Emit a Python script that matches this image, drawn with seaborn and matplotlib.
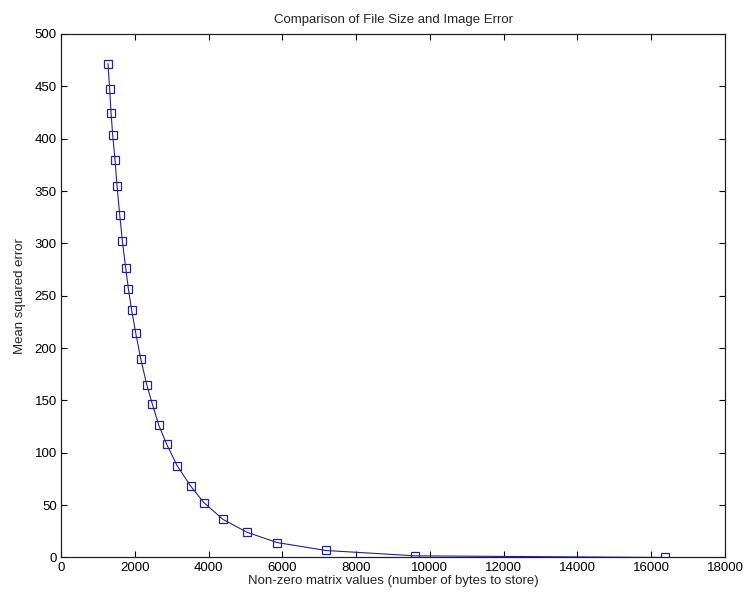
import pandas as pd
import matplotlib
matplotlib.use("Agg")
import matplotlib.pyplot as plt
import seaborn as sns

# values
nonzero_values = [1273, 1318, 1355, 1400, 1464, 1518, 1591, 1664, 1753, 1825,
                  1912, 2023, 2159, 2322, 2476, 2649, 2866, 3147, 3510, 3870,
                  4390, 5035, 5855, 7180, 9594, 16364]
mse_values = [471.7, 447.5, 424.9, 403.6, 379.5, 355.0, 327.0, 301.8, 276.5, 256.7,
              236.8, 214.7, 190.0, 165.2, 146.4, 126.4, 108.0, 87.7, 68.3, 52.5,
              36.4, 24.2, 14.3, 6.7, 1.6, 0.0]
x_ticks = [0, 2000, 4000, 6000, 8000, 10000, 12000, 14000, 16000, 18000]
y_ticks = [0, 50, 100, 150, 200, 250, 300, 350, 400, 450, 500]

data = pd.DataFrame({"nnz": nonzero_values, "mse": mse_values})

sns.set_style("ticks")
plt.rcParams["font.family"] = ["Liberation Sans", "DejaVu Sans"]
plt.rcParams["font.size"] = 9.5

fig = plt.figure(figsize=(7.48, 5.96), dpi=100)
ax = fig.add_axes([0.0816, 0.0646, 0.8877, 0.8784])

line_color = "#22229a"
sns.lineplot(data=data, x="nnz", y="mse", sort=False, ax=ax, color=line_color,
             linewidth=0.8, marker="s", markersize=5.6, markerfacecolor="none",
             markeredgecolor=line_color, markeredgewidth=0.9)

ax.set_xlim(0, 18000)
ax.set_ylim(0, 500)
ax.set_xticks(x_ticks)
ax.set_yticks(y_ticks)
ax.tick_params(direction="in", top=True, right=True, length=4.5, width=0.8,
               labelsize=9.5, colors="black", pad=3)
for s in ax.spines.values():
    s.set_linewidth(0.9)
    s.set_color("#222222")

ax.set_title("Comparison of File Size and Image Error", fontsize=9.5, pad=8)
ax.set_xlabel("Non-zero matrix values (number of bytes to store)", fontsize=9.5, labelpad=1)
ax.set_ylabel("Mean squared error", fontsize=9.5, labelpad=6)

fig.savefig("out.png", dpi=100)
